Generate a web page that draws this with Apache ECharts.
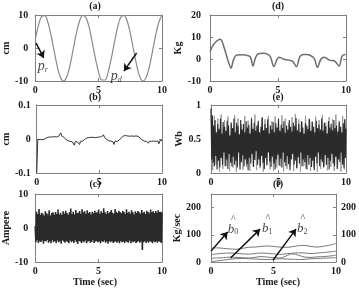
<!DOCTYPE html>
<html><head><meta charset="utf-8">
<script src="https://cdn.jsdelivr.net/npm/echarts@6/dist/echarts.min.js"></script>
<style>html,body{margin:0;padding:0;background:#fff;overflow:hidden}#c{width:359px;height:291px}</style>
</head><body><div id="c"></div>
<script>
// ---------- data ----------
const xTicks = [0, 5, 10];
// (a) position, cm, sampled every 0.25 s
const aStep = 0.25;
const aVals = [2.5,6.8,9.5,9.8,7.8,3.8,-1.1,-5.7,-9.0,-10.0,-8.6,-5.1,-0.3,4.5,8.2,9.9,9.2,6.3,1.7,-3.2,-7.3,-9.7,-9.7,-7.3,-3.1,1.8,6.3,9.3,9.9,8.2,4.4,-0.4,-5.2,-8.7,-10.0,-8.9,-5.7,-1.0,3.9,7.8,9.9];
// (b) tracking error, cm, every 1/12 s
const bVals = [-0.1,-0.002,0.001,-0.001,0.000,-0.002,0.001,-0.001,0.002,0.003,
0.006,0.005,0.007,0.006,0.008,0.006,0.009,0.007,0.008,0.006,
0.010,0.008,0.011,0.018,0.009,0.007,0.005,0.002,-0.001,-0.003,
-0.005,-0.004,-0.007,-0.005,-0.008,-0.006,-0.018,-0.007,-0.005,-0.009,
-0.006,-0.016,-0.007,-0.005,-0.006,-0.003,-0.001,0.002,0.003,0.005,
0.004,0.006,0.005,0.007,0.005,0.006,0.004,0.007,0.005,0.008,
0.006,0.004,0.007,0.005,0.012,0.004,0.002,-0.001,-0.003,-0.005,
-0.004,-0.006,-0.005,-0.008,-0.016,-0.006,-0.004,-0.007,-0.005,-0.003,
-0.001,0.003,0.007,0.009,0.008,0.010,0.012,0.009,0.011,0.008,
0.010,0.009,0.011,0.008,0.010,0.009,0.011,0.008,0.006,0.003,
0.000,-0.003,-0.004,-0.006,-0.005,-0.007,-0.005,-0.012,-0.006,-0.004,
-0.007,-0.005,-0.006,-0.004,-0.007,-0.005,-0.006,-0.014,-0.005,-0.007,-0.004];
// (c) current, Ampere
const cVals = [0.5,-4.2,4.8,-3.6,4.1,-4.4,5.6,-3.9,3.8,-4.1,
4.5,-3.7,4.2,-4.6,3.6,-3.8,4.9,-4.0,4.3,-3.5,
4.0,-4.3,5.2,-3.9,3.7,-4.5,4.4,-3.6,4.6,-4.1,
3.9,-3.8,4.7,-4.4,4.1,-3.7,5.4,-4.2,4.0,-3.9,
4.5,-4.6,3.8,-3.6,4.9,-4.0,4.2,-4.3,5.1,-3.8,
4.4,-4.1,3.9,-4.5,4.6,-3.7,5.7,-4.2,4.1,-3.9,
4.8,-4.4,4.0,-3.6,5.3,-4.1,4.3,-4.7,4.5,-3.8,
5.0,-4.0,4.2,-4.4,5.5,-3.9,4.6,-4.2,4.9,-3.7,
4.1,-4.5,5.2,-4.0,4.4,-3.8,4.7,-4.3,4.0,-4.1,
4.8,-3.6,4.3,-4.4,5.1,-4.0,4.5,-3.9,4.6,-4.2,
5.4,-4.0,4.2,-4.5,4.9,-3.8,4.4,-4.1,5.8,-3.7,
4.6,-4.3,4.1,-4.0,5.0,-4.6,4.3,-3.9,4.7,-4.2,
5.3,-3.8,4.5,-4.4,4.2,-4.1,5.6,-3.9,4.8,-4.3,
4.4,-4.0,5.1,-4.5,4.6,-3.8,4.3,-4.2,5.0,-4.0,
4.7,-4.4,4.1,-3.9,5.5,-4.1,4.5,-4.3,4.8,-3.7,
4.2,-4.5,5.2,-4.0,4.6,-4.2,4.0,-3.9,4.9,-4.4,
4.4,-4.1,5.0,-3.8,4.6,-4.3,4.2,-4.0,5.3,-6.5,
4.5,-4.2,4.8,-3.9,4.1,-4.4,5.1,-4.0,4.7,-4.3,
4.3,-3.8,5.4,-4.1,4.6,-4.5,4.9,-3.9,4.4,-4.2,
5.0,-4.0,4.5,-4.3,5.2,-3.8,4.7,-4.1,4.8,-4.4,4.6];
// (d) mass estimate, Kg
const dTimes = [0,0.24,0.5,0.74,0.86,1.1,1.35,1.55,1.72,1.97,2.3,2.6,2.96,3.16,3.33,3.53,3.95,4.2,4.44,4.7,4.9,5.07,5.25,5.43,5.8,6.1,6.35,6.6,6.84,7.1,7.33,7.66,7.9,8.15,8.4,8.78,9.15,9.48,9.72,9.97,10];
const dVals = [3.3,6.4,8.2,9.0,8.4,4,-1.2,-4.2,-0.5,1.8,1.9,1.8,1,-3.2,0.3,2.3,2.6,2.3,1.0,-3.5,-0.5,0.8,0.5,-0.1,-0.5,-1.2,-3.5,1,2,2.1,1.8,0.3,-3.8,-0.1,0.8,-0.5,-0.8,-3.2,1.4,2.1,2];
// (e) flux, Wb
const eDark = [0.95,0.2,0.85,0.15,0.7,0.1,0.78,0.25,0.6,0.05,
0.72,0.18,0.65,0.08,0.8,0.22,0.58,0.12,0.75,0.3,
0.68,0.1,0.62,0.2,0.77,0.06,0.7,0.28,0.55,0.15,
0.73,0.1,0.66,0.24,0.8,0.12,0.6,0.18,0.74,0.08,
0.69,0.3,0.57,0.05,0.78,0.16,0.64,0.26,0.72,0.1,
0.6,0.2,0.76,0.13,0.67,0.04,0.71,0.22,0.58,0.14,
0.8,0.28,0.65,0.09,0.74,0.19,0.62,0.32,0.7,0.12,
0.77,0.2,0.6,0.1,0.68,0.25,0.82,0.15,0.63,0.06,
0.72,0.22,0.66,0.12,0.79,0.3,0.58,0.17,0.7,0.09,
0.64,0.24,0.75,0.14,0.6,0.05,0.73,0.2,0.67,0.27,
0.8,0.11,0.62,0.21,0.71,0.08,0.66,0.3,0.76,0.16,
0.59,0.1,0.7,0.25,0.64,0.13,0.78,0.04,0.68,0.2,
0.61,0.28,0.74,0.12,0.69,0.18,0.81,0.07,0.63,0.23,
0.72,0.14,0.6,0.3,0.76,0.1,0.67,0.2,0.58,0.16,
0.73,0.06,0.7,0.26,0.65,0.12,0.79,0.22,0.62,0.09,
0.75,0.18,0.68,0.04,0.6,0.24,0.77,0.14,0.66,0.3,
0.71,0.1,0.64,0.2,0.8,0.16,0.62,0.08,0.74,0.26,
0.69,0.12,0.58,0.22,0.76,0.05,0.67,0.18,0.72,0.28,
0.63,0.14,0.78,0.1,0.66,0.24,0.7,0.06,0.61,0.2,
0.75,0.16,0.68,0.3,0.6,0.12,0.73,0.08,0.79,0.22,0.65];
const eLight = [0.92,0.04,0.84,0.12,0.8,0.02,0.86,0.06,0.78,0.1,
0.83,0.03,0.75,0.08,0.85,0.02,0.8,0.12,0.72,0.05,
0.84,0.09,0.77,0.03,0.82,0.1,0.86,0.04,0.74,0.07,
0.81,0.02,0.79,0.11,0.84,0.05,0.76,0.03,0.83,0.08,
0.78,0.1,0.85,0.02,0.8,0.06,0.73,0.09,0.82,0.03,
0.87,0.07,0.79,0.02,0.75,0.1,0.84,0.05,0.8,0.03,
0.76,0.08,0.83,0.02,0.78,0.06,0.85,0.1,0.74,0.04,
0.82,0.09,0.79,0.03,0.86,0.07,0.77,0.02,0.84,0.05,0.8];
// (f) friction coefficient estimates, Kg/sec, every 0.5 s
const fStep = 0.5;
const fB0 = [51,52,50,48,47,50,54,55,57,59,57,55,54,56,60,61,57,55,58,62,68];
const fB1 = [27,30,32,33,32,30,29,31,33,32,30,28,30,32,34,33,31,33,35,37,40];
const fB2 = [14,15,16,18,17,16,15,17,20,18,16,15,22,30,25,18,17,19,20,22,25];
const fB3 = [2,4,7,10,12,13,12,11,10,9,10,12,11,10,9,10,12,13,14,15,16];
// annotations (data coordinates)
const arrowsA = [[[0.07,1.5],[0.67,-3]], [[8.0,-1.5],[7.0,-7]]];
const labelsA = [[0.6,-5.6,'r'], [6.4,-8.6,'d']];
const arrowsF = [[[0,40],[1.33,110]], [[1.56,15],[3.93,121]], [[4.96,7],[6.8,121]]];
const labelsF = [[1.75,132,'0'], [4.5,134,'1'], [7.3,134,'2']];

// ---------- chart ----------
const FONT = 'Liberation Serif';
const AX = '#808080';
const TXT = '#1a1a1a';
const pairs = (vals, step) => vals.map((v, i) => [i * step, v]);
const even = vals => pairs(vals, 10 / (vals.length - 1));

const grids = [
  {left:28, top:15, width:134, height:66},
  {left:28, top:105, width:134, height:68},
  {left:28, top:194, width:134, height:68},
  {left:210, top:15, width:136, height:66},
  {left:211, top:105, width:135, height:68},
  {left:211, top:194, width:135, height:68}
];
const yCfg = [
  {min:-10, max:10, interval:10, name:'cm', gap:16, margin:7},
  {min:-0.1, max:0.1, interval:0.1, name:'cm', gap:16, margin:6},
  {min:-10, max:10, interval:10, name:'Ampere', gap:17, margin:7},
  {min:-10, max:20, interval:10, name:'Kg', gap:18, margin:9},
  {min:0, max:1, interval:0.5, name:'Wb', gap:18, margin:10},
  {min:0, max:250, interval:100, name:'Kg/sec', gap:18, margin:10, shown:[0,100,200]}
];
const lblStyle = {color:TXT, fontFamily:FONT, fontWeight:'bold', fontSize:10};
const xAxis = [], yAxis = [];
grids.forEach((g, i) => {
  const common = {type:'value', gridIndex:i, min:0, max:10, interval:5, splitLine:{show:false},
    axisLine:{show:true, onZero:false, lineStyle:{color:AX, width:1}},
    axisTick:{show:true, inside:true, length:3, lineStyle:{color:AX}}};
  xAxis.push(Object.assign({}, common, {position:'bottom', axisLabel:Object.assign({margin:4}, lblStyle)}));
  xAxis.push(Object.assign({}, common, {position:'top', axisLabel:{show:false}}));
  const c = yCfg[i];
  const ycommon = {type:'value', gridIndex:i, min:c.min, max:c.max, interval:c.interval, splitLine:{show:false},
    axisLine:{show:true, onZero:false, lineStyle:{color:AX, width:1}},
    axisTick:{show:true, inside:true, length:3, lineStyle:{color:AX}}};
  const fmt = v => (c.shown && c.shown.indexOf(Math.round(v)) < 0) ? '' : String(+v.toFixed(3));
  yAxis.push(Object.assign({}, ycommon, {position:'left', name:c.name, nameLocation:'middle', nameGap:c.gap, nameRotate:90,
    nameTextStyle:{color:TXT, fontFamily:FONT, fontWeight:'bold', fontSize:10},
    axisLabel:Object.assign({margin:c.margin, formatter:fmt}, lblStyle)}));
  yAxis.push(Object.assign({}, ycommon, {position:'right',
    axisLabel: i === 5 ? Object.assign({margin:5, align:'left', formatter:fmt}, lblStyle) : {show:false}}));
});

function lineSeries(gi, data, color, width, extra) {
  return Object.assign({type:'line', xAxisIndex:2*gi, yAxisIndex:2*gi, data:data, showSymbol:false, symbol:'none',
    silent:true, animation:false, lineStyle:{color:color, width:width}}, extra || {});
}
function arrows(list) {
  return {silent:true, animation:false, symbol:['none','arrow'], symbolSize:7, label:{show:false},
    lineStyle:{color:'#111', width:1.5, type:'solid'},
    data:list.map(p => [{coord:p[0]}, {coord:p[1]}])};
}
const rich = {
  p:{fontFamily:FONT, fontStyle:'italic', fontSize:14, color:'#111'},
  s:{fontFamily:FONT, fontStyle:'italic', fontSize:8, color:'#111', padding:[7,0,0,0]},
  h:{fontFamily:FONT, fontSize:10, color:'#111', padding:[0,0,0,1], lineHeight:6},
  b:{fontFamily:FONT, fontStyle:'italic', fontSize:13, color:'#111', lineHeight:13},
  n:{fontFamily:FONT, fontSize:8, color:'#111', padding:[6,0,0,0]}
};

const series = [
  lineSeries(0, pairs(aVals, aStep), '#8a8a8a', 1.2, {smooth:0.4, markLine:arrows(arrowsA)}),
  {type:'scatter', xAxisIndex:0, yAxisIndex:0, symbolSize:0, silent:true, animation:false,
   data:labelsA.map(l => ({value:[l[0], l[1]], sub:l[2]})),
   label:{show:true, position:'inside', formatter:p => '{p|p}{s|' + p.data.sub + '}', rich:rich}},
  lineSeries(1, even(bVals), '#333', 1),
  lineSeries(2, even(cVals), '#2a2a2a', 1.6),
  lineSeries(3, dTimes.map((t, i) => [t, dVals[i]]), '#6e6e6e', 1.5, {smooth:0.35}),
  lineSeries(4, even(eLight), '#9a9a9a', 1),
  lineSeries(4, even(eDark), '#2a2a2a', 1.1),
  lineSeries(5, pairs(fB0, fStep), '#777', 1, {smooth:0.4, markLine:arrows(arrowsF)}),
  lineSeries(5, pairs(fB1, fStep), '#777', 1, {smooth:0.4}),
  lineSeries(5, pairs(fB2, fStep), '#777', 1, {smooth:0.4}),
  lineSeries(5, pairs(fB3, fStep), '#777', 1, {smooth:0.4}),
  {type:'scatter', xAxisIndex:10, yAxisIndex:10, symbolSize:0, silent:true, animation:false,
   data:labelsF.map(l => ({value:[l[0], l[1]], sub:l[2]})),
   label:{show:true, position:'inside', formatter:p => '{h|^}\n{b|b}{n|' + p.data.sub + '}', rich:rich}}
];

const tfont = 'bold 10px "' + FONT + '"';
const txt = (s, x, y) => ({type:'text', x:x, y:y, silent:true, z:100,
  style:{text:s, font:tfont, fill:TXT, align:'center', verticalAlign:'middle'}});
const graphic = [
  txt('(a)', 95, 6), txt('(b)', 95, 97), txt('(c)', 95, 184),
  txt('(d)', 278, 6), txt('(e)', 278, 97), txt('(f)', 278, 184),
  txt('Time (sec)', 95, 282), txt('Time (sec)', 278, 282)
];

const chart = echarts.init(document.getElementById('c'), null, {renderer:'canvas'});
chart.setOption({animation:false, backgroundColor:'#fff', grid:grids, xAxis:xAxis, yAxis:yAxis, series:series, graphic:graphic});
</script>
</body></html>
